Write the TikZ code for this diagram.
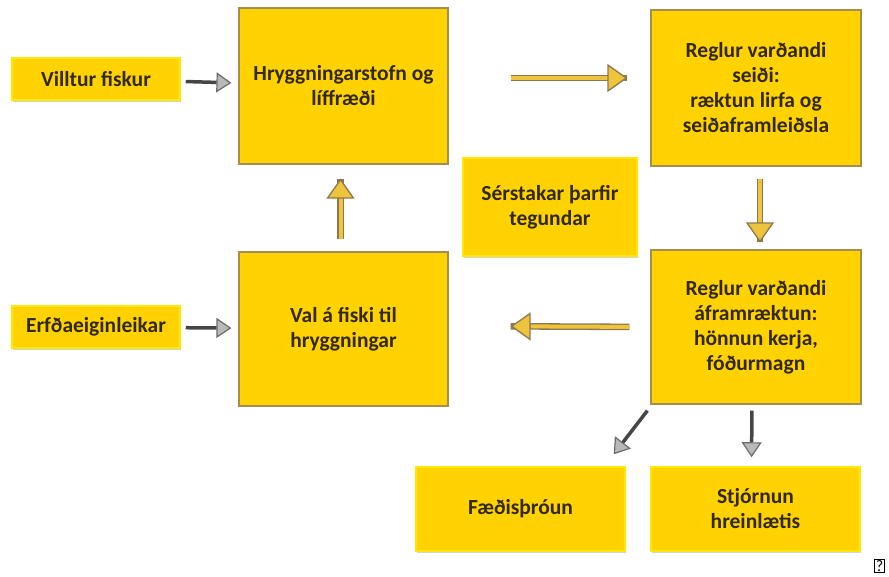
\documentclass[tikz,border=0pt]{standalone}
\usepackage{fontspec}
\setmainfont{Carlito}
\usetikzlibrary{arrows.meta,shadows}

\definecolor{boxfill}{RGB}{255,210,0}
\definecolor{boxedge}{RGB}{165,140,80}
\definecolor{ink}{RGB}{50,40,12}
\definecolor{arrowfill}{RGB}{238,196,60}
\definecolor{arrowedge}{RGB}{140,120,80}
\definecolor{darkshaft}{RGB}{70,70,70}

\tikzset{
  box/.style={rectangle, fill=boxfill, draw=boxedge, line width=1.2pt,
    text=ink, align=center, font=\fontsize{21.5}{25}\selectfont\bfseries},
  smallbox/.style={rectangle, fill=boxfill, draw=yellow!70!boxfill, line width=1.5pt,
    text=ink, align=center, font=\fontsize{21.5}{25}\selectfont\bfseries,
    drop shadow={shadow xshift=1pt, shadow yshift=-2pt, opacity=0.35}},
  hollow/.style={line width=4pt, draw=arrowfill,
    -{Triangle[length=20pt 0 0, width=28pt 0 0, fill=arrowfill, color=arrowedge, line width=1.3pt]},
    preaction={draw=arrowedge, line width=6.6pt, -{}}},
  grayarrow/.style={line width=3.5pt, draw=darkshaft,
    -{Triangle[length=15pt 0 0, width=20pt 0 0, fill=gray!55, color=gray!85!black, line width=1.2pt]}}
}

\begin{document}
\begin{tikzpicture}[x=1pt,y=-1pt]
\useasboundingbox (0,0) rectangle (889,577);

% left side inputs
\node[smallbox, minimum width=168pt, minimum height=42pt] (wild) at (96,79) {Villtur fiskur};
\node[smallbox, minimum width=168pt, minimum height=42pt] (genes) at (96,327) {Erfðaeiginleikar};

% main cycle
\node[box, minimum width=209pt, minimum height=156pt] (brood) at (343.5,86) {Hryggningarstofn og\\líffræði};
\node[box, minimum width=210pt, minimum height=156pt] (larva) at (756,88) {Reglur varðandi\\seiði:\\ræktun lirfa og\\seiðaframleiðsla};
\node[box, minimum width=210pt, minimum height=154pt] (growout) at (756,327) {Reglur varðandi\\áframræktun:\\hönnun kerja,\\fóðurmagn};
\node[box, minimum width=209pt, minimum height=154pt] (select) at (343.5,329) {Val á fiski til\\hryggningar};

% middle and bottom
\node[smallbox, minimum width=174pt, minimum height=98pt] (needs) at (550,207) {Sérstakar þarfir\\tegundar};
\node[smallbox, minimum width=209pt, minimum height=84pt] (feed) at (520.5,509) {Fæðisþróun};
\node[smallbox, minimum width=209pt, minimum height=84pt] (hygiene) at (755.5,509) {Stjórnun\\hreinlætis};

\node[draw, line width=0.8pt, inner sep=1.2pt, font=\fontsize{16}{17}\selectfont] (mark) at (879.5,566) {?};

% arrows
\draw[grayarrow, shorten <=5pt, shorten >=7pt] (wild) -- (brood);
\draw[grayarrow, shorten <=5pt, shorten >=7pt] (genes) -- (select);
\draw[hollow, shorten <=62pt, shorten >=23pt] ([shift={(0,-8)}]brood.east) -- ([shift={(0,-10)}]larva.west);
\draw[hollow, shorten <=12pt, shorten >=7pt] ([shift={(4,0)}]larva.south) -- ([shift={(4,0)}]growout.north);
\draw[hollow, shorten <=21pt, shorten >=62pt] (growout.west) -- ([shift={(0,-3)}]select.east);
\draw[hollow, shorten <=12pt, shorten >=14pt] ([shift={(-3,0)}]select.north) -- ([shift={(-3,0)}]brood.south);
\draw[grayarrow] ([shift={(-3,6)}]growout.south west) -- ([shift={(-12,-12)}]feed.north east);
\draw[grayarrow, shorten <=6pt, shorten >=9pt] ([shift={(-4,0)}]growout.south) -- ([shift={(-4,0)}]hygiene.north);
\end{tikzpicture}
\end{document}
